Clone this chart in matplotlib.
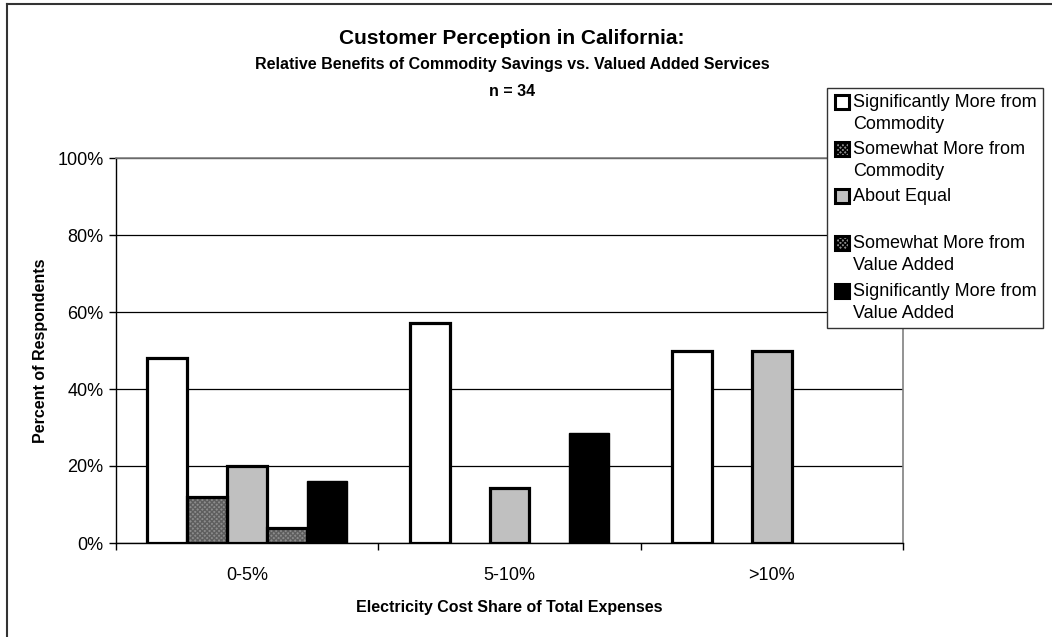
import numpy as np
import matplotlib.pyplot as plt
from matplotlib.patches import Rectangle
from matplotlib.lines import Line2D

plt.rcParams['font.family'] = ['Liberation Sans', 'DejaVu Sans']

categories = ['0-5%', '5-10%', '>10%']
series_names = [
    'Significantly More from\nCommodity',
    'Somewhat More from\nCommodity',
    'About Equal',
    'Somewhat More from\nValue Added',
    'Significantly More from\nValue Added',
]
sig_commodity = [48.0, 57.1, 50.0]
some_commodity = [12.0, 0.0, 0.0]
about_equal = [20.0, 14.3, 50.0]
some_value = [4.0, 0.0, 0.0]
sig_value = [16.0, 28.6, 0.0]

series = [sig_commodity, some_commodity, about_equal, some_value, sig_value]
faces = ['white', '#8c8c8c', '#c0c0c0', '#8c8c8c', 'black']
hatched = [False, True, False, True, False]

W, H = 1052, 637
fig = plt.figure(figsize=(W / 100, H / 100), dpi=100)
ax = fig.add_axes([116 / W, 1 - 543 / H, (903 - 116) / W, (543 - 158) / H])

x = np.arange(len(categories))
bw = 0.152
for i, vals in enumerate(series):
    vals = np.array(vals)
    keep = vals > 0
    pos = x[keep] + (i - 2) * bw
    if hatched[i]:
        ax.bar(pos, vals[keep], bw, color=faces[i], hatch='xxxxxxx',
               edgecolor='#5e5e5e', linewidth=0, zorder=3)
        ax.bar(pos, vals[keep], bw, fill=False, edgecolor='black',
               linewidth=2.3, zorder=4)
    else:
        ax.bar(pos, vals[keep], bw, color=faces[i], edgecolor='black',
               linewidth=2.3 if faces[i] != 'black' else 1, zorder=3)

ax.set_xlim(-0.5, 2.5)
ax.set_ylim(0, 100)
ax.set_yticks(np.arange(0, 101, 20))
ax.set_yticklabels([f'{v}%' for v in range(0, 101, 20)], fontsize=13)
ax.set_xticks(x)
ax.set_xticklabels(categories, fontsize=13)
ax.set_xticks([-0.5, 0.5, 1.5, 2.5], minor=True)
ax.tick_params(axis='x', which='major', length=0, pad=17)
ax.tick_params(axis='x', which='minor', length=5, width=1, direction='out')
ax.tick_params(axis='y', length=5, width=1, direction='out', pad=4)
ax.yaxis.grid(True, color='black', linewidth=0.9)
ax.set_axisbelow(True)
for s in ['top', 'right']:
    ax.spines[s].set_color('#808080')
    ax.spines[s].set_linewidth(1.2)
for s in ['left', 'bottom']:
    ax.spines[s].set_color('black')
    ax.spines[s].set_linewidth(1)

ax.set_ylabel('Percent of Respondents', fontsize=11.5, fontweight='bold', labelpad=7)
ax.set_xlabel('Electricity Cost Share of Total Expenses', fontsize=11.5,
              fontweight='bold', labelpad=12)

fig.text(512 / W, 1 - 38 / H, 'Customer Perception in California:', ha='center',
         va='center', fontsize=15, fontweight='bold')
fig.text(512 / W, 1 - 64 / H,
         'Relative Benefits of Commodity Savings vs. Valued Added Services',
         ha='center', va='center', fontsize=11.5, fontweight='bold')
fig.text(512 / W, 1 - 92 / H, 'n = 34', ha='center', va='center',
         fontsize=11.5, fontweight='bold')

# outer chart border
fig.add_artist(Line2D([7 / W, 7 / W], [0, 1 - 4 / H], color='#333333', lw=1.5))
fig.add_artist(Line2D([7 / W, 1], [1 - 4 / H, 1 - 4 / H], color='#333333', lw=1.5))

# legend box
lx0, lx1, ly0, ly1 = 827, 1043, 88, 328
fig.add_artist(Rectangle((lx0 / W, 1 - ly1 / H), (lx1 - lx0) / W, (ly1 - ly0) / H,
                         transform=fig.transFigure, facecolor='white',
                         edgecolor='#333333', lw=1, zorder=5))
entry_y = [102, 149, 196, 243, 291]
for i, name in enumerate(series_names):
    yc = entry_y[i]
    fig.add_artist(Rectangle((835 / W, 1 - (yc + 7) / H), 14 / W, 14 / H,
                             transform=fig.transFigure, facecolor=faces[i],
                             hatch='xxxxxxx' if hatched[i] else None,
                             edgecolor='black', lw=2.2, zorder=6))
    fig.text(853 / W, 1 - (yc - 8) / H, name, ha='left', va='top', fontsize=13,
             linespacing=1.38, zorder=7)

fig.savefig('out.png', dpi=100)
